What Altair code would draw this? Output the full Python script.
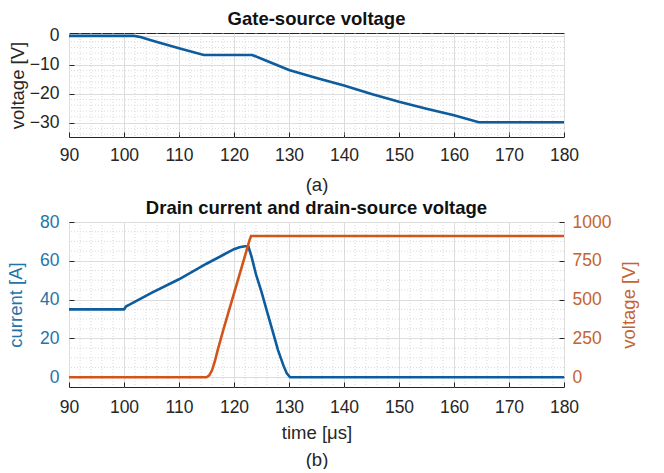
import altair as alt
import pandas as pd

FONT = "Liberation Sans"

# ---- (a) gate-source voltage ----
gate_t = [90, 101.8, 103, 104, 106, 110, 114.5, 123.3, 125, 130, 135, 140, 145, 150, 155, 160, 164.5, 180]
gate_v = [0, 0, -0.4, -0.95, -2.1, -4.3, -6.6, -6.6, -7.9, -11.8, -14.6, -17.2, -20.1, -22.8, -25.2, -27.5, -29.9, -29.9]

# ---- (b) drain current and drain-source voltage ----
cur_t = [90, 100, 100.4, 101, 105, 110, 115, 118, 120, 121, 122, 122.6, 123.2, 124, 125, 126, 127, 128, 129, 129.6, 130.2, 180]
cur_a = [35, 35, 36.6, 37.4, 43.5, 50.5, 58.5, 63, 66, 67, 67.5, 67.5, 62, 53, 44, 34, 24, 14, 6, 2, 0, 0]

volt_t = [90, 115, 115.5, 116, 116.5, 117, 118, 119, 120, 121, 122, 122.8, 123.1, 124, 180]
volt_v = [0, 0, 12, 45, 100, 170, 298, 419, 540, 661, 782, 880, 910, 910, 910]

x_ticks = [90, 100, 110, 120, 130, 140, 150, 160, 170, 180]
x_minor = [v for v in range(92, 180, 2) if v % 10 != 0]
gate_ticks = [-30, -20, -10, 0]
gate_minor = [v for v in range(-34, 1, 2) if v % 10 != 0]
cur_ticks = [0, 20, 40, 60, 80]
cur_minor = [v for v in range(5, 80, 5) if v % 20 != 0]
volt_ticks = [0, 250, 500, 750, 1000]

BLUE_LINE = "#0C5C9E"
BLUE_TXT = "#2474A8"
ORANGE_LINE = "#D2541A"
ORANGE_TXT = "#C4642F"
GRID = "#DDDDDD"
MINOR = "#CFCFCF"
INK = "#262626"
TICK = 17.5
ATITLE = 18.5
TK = 5

gate_df = pd.DataFrame({"t": gate_t, "v": gate_v})
cur_df = pd.DataFrame({"t": cur_t, "a": cur_a})
volt_df = pd.DataFrame({"t": volt_t, "v": volt_v})
xminor_df = pd.DataFrame({"m": x_minor})
gminor_df = pd.DataFrame({"m": gate_minor})
cminor_df = pd.DataFrame({"m": cur_minor})

xscale = alt.Scale(domain=[90, 180], nice=False, zero=False)


def x_axis(title, lpad, tpad):
    return alt.Axis(values=x_ticks, title=title, grid=True, gridColor=GRID,
                    labelFontSize=TICK, labelColor=INK, labelPadding=lpad + TK, labelFlush=False,
                    titleFontSize=ATITLE, titleFontWeight="normal", titleColor=INK,
                    titlePadding=tpad, ticks=True, tickSize=TK, tickColor=INK, tickWidth=1,
                    tickOpacity=1, offset=-TK,
                    domain=False, labelFont=FONT, titleFont=FONT, titleLineHeight=27)


ax_a = x_axis("(a)", 4, 12)
ax_b = x_axis(["time [\u03bcs]", "(b)"], 6, 7.5)

gscale = alt.Scale(domain=[-35, 1], nice=False, zero=False)
g_axis = alt.Axis(values=gate_ticks, title="voltage [V]", grid=True, gridColor=GRID,
                  labelFontSize=TICK, labelColor=INK, titleFontSize=ATITLE,
                  titleFontWeight="normal", titleColor=INK, ticks=True, tickSize=TK,
                  tickColor=INK, tickWidth=1, tickOpacity=1, offset=-TK, domain=False,
                  labelPadding=5 + TK, titlePadding=2, labelFont=FONT, titleFont=FONT)

top_xminor = alt.Chart(xminor_df).mark_rule(color=MINOR, strokeDash=[1, 2], strokeWidth=0.8).encode(
    x=alt.X("m:Q", scale=xscale, axis=ax_a))
top_yminor = alt.Chart(gminor_df).mark_rule(color=MINOR, strokeDash=[1, 2], strokeWidth=0.8).encode(
    y=alt.Y("m:Q", scale=gscale, axis=g_axis))
top_line = alt.Chart(gate_df).mark_line(color=BLUE_LINE, strokeWidth=2.6).encode(
    x=alt.X("t:Q", scale=xscale, axis=ax_a),
    y=alt.Y("v:Q", scale=gscale, axis=g_axis))

top = alt.layer(top_xminor, top_yminor, top_line).properties(
    width=495, height=104,
    title=alt.TitleParams("Gate-source voltage", fontSize=18.5, fontWeight="bold", font=FONT,
                          color="#111111", offset=-2))

cscale = alt.Scale(domain=[-5, 80], nice=False, zero=False)
vscale = alt.Scale(domain=[-62.5, 1000], nice=False, zero=False)
c_axis = alt.Axis(values=cur_ticks, title="current [A]", grid=True, gridColor=GRID,
                  labelFontSize=TICK, labelColor=BLUE_TXT, titleFontSize=ATITLE,
                  titleFontWeight="normal", titleColor=BLUE_TXT, ticks=True, tickSize=TK,
                  tickColor=INK, tickWidth=1, tickOpacity=1, offset=-TK, domain=False,
                  labelPadding=5 + TK, titlePadding=14, labelFont=FONT, titleFont=FONT, orient="left")
v_axis = alt.Axis(values=volt_ticks, title="voltage [V]", grid=False, format="d",
                  labelFontSize=TICK, labelColor=ORANGE_TXT, titleFontSize=ATITLE,
                  titleFontWeight="normal", titleColor=ORANGE_TXT, ticks=True, tickSize=TK,
                  tickColor=INK, tickWidth=1, tickOpacity=1, offset=-TK, domain=False,
                  labelPadding=3 + TK, titlePadding=9, labelFont=FONT, titleFont=FONT, orient="right",
                  titleAngle=270, titleBaseline="top")

bot_xminor = alt.Chart(xminor_df).mark_rule(color=MINOR, strokeDash=[1, 2], strokeWidth=0.8).encode(
    x=alt.X("m:Q", scale=xscale, axis=ax_b))
bot_yminor = alt.Chart(cminor_df).mark_rule(color=MINOR, strokeDash=[1, 2], strokeWidth=0.8).encode(
    y=alt.Y("m:Q", scale=cscale, axis=None))
cur_line = alt.Chart(cur_df).mark_line(color=BLUE_LINE, strokeWidth=2.6).encode(
    x=alt.X("t:Q", scale=xscale, axis=ax_b),
    y=alt.Y("a:Q", scale=cscale, axis=c_axis))
volt_line = alt.Chart(volt_df).mark_line(color=ORANGE_LINE, strokeWidth=2.6).encode(
    x=alt.X("t:Q", scale=xscale, axis=ax_b),
    y=alt.Y("v:Q", scale=vscale, axis=v_axis))

bottom = alt.layer(bot_xminor, bot_yminor, cur_line, volt_line).resolve_scale(
    y="independent").properties(
    width=495, height=165,
    title=alt.TitleParams("Drain current and drain-source voltage", fontSize=18.5,
                          fontWeight="bold", font=FONT, color="#111111", offset=-4))

chart = alt.vconcat(top, bottom, spacing=3).properties(
    padding={"left": 6, "top": 9, "right": 5, "bottom": 0},
    background="white").configure_view(stroke=INK, strokeWidth=1)

chart.save("out.html", embed_options={"renderer": "svg", "actions": False})
